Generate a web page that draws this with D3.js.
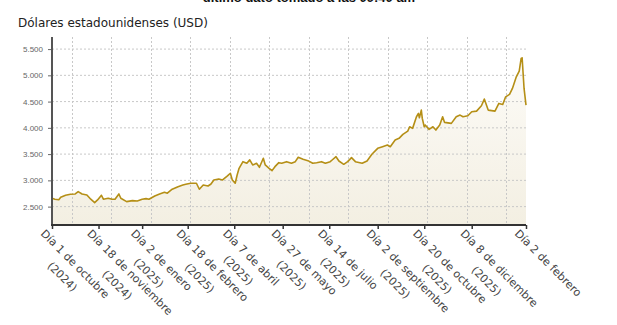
<!DOCTYPE html>
<html>
<head>
<meta charset="utf-8">
<script src="https://cdn.jsdelivr.net/npm/d3@7"></script>
<style>
  body { margin: 0; background: #fff; }
  svg { display: block; }
</style>
</head>
<body>
<svg id="chart" width="617" height="325"></svg>
<script>
// Precio en dólares, serie diaria muestreada
const dates = [
  "2024-10-01","2024-10-04","2024-10-08","2024-10-10","2024-10-15","2024-10-20","2024-10-25","2024-10-28",
  "2024-11-01","2024-11-06","2024-11-10","2024-11-14","2024-11-17","2024-11-21","2024-11-23","2024-11-28",
  "2024-12-02","2024-12-05","2024-12-09","2024-12-11","2024-12-17","2024-12-23","2024-12-28",
  "2025-01-02","2025-01-06","2025-01-09","2025-01-15","2025-01-20","2025-01-25","2025-01-28",
  "2025-02-02","2025-02-08","2025-02-13","2025-02-16","2025-02-21","2025-02-27",
  "2025-03-02","2025-03-06","2025-03-11","2025-03-14","2025-03-17","2025-03-22","2025-03-26","2025-03-31",
  "2025-04-03","2025-04-05","2025-04-08","2025-04-10","2025-04-12","2025-04-16","2025-04-20","2025-04-23","2025-04-26","2025-04-30",
  "2025-05-03","2025-05-07","2025-05-09","2025-05-13","2025-05-16","2025-05-19","2025-05-23","2025-05-26","2025-05-31",
  "2025-06-05","2025-06-09","2025-06-12","2025-06-17","2025-06-22","2025-06-27",
  "2025-07-01","2025-07-06","2025-07-10","2025-07-15","2025-07-17","2025-07-21","2025-07-24","2025-07-29",
  "2025-08-02","2025-08-06","2025-08-10","2025-08-17","2025-08-22","2025-08-27",
  "2025-09-02","2025-09-07","2025-09-12","2025-09-15","2025-09-20","2025-09-24","2025-09-28",
  "2025-10-03","2025-10-05","2025-10-08","2025-10-12","2025-10-14","2025-10-15","2025-10-17","2025-10-18","2025-10-20","2025-10-21","2025-10-25","2025-10-29",
  "2025-11-01","2025-11-05","2025-11-08","2025-11-10","2025-11-17","2025-11-22","2025-11-26","2025-11-29",
  "2025-12-04","2025-12-08","2025-12-13","2025-12-18","2025-12-21","2025-12-25",
  "2026-01-01","2026-01-05","2026-01-09","2026-01-12","2026-01-16","2026-01-19","2026-01-23","2026-01-26","2026-01-28","2026-01-29","2026-01-31",
  "2026-02-02"
];
const values = [
  2660,2641,2630,2679,2717,2736,2741,2785,
  2741,2722,2641,2576,2627,2717,2641,2660,
  2641,2641,2741,2660,2595,2614,2608,
  2641,2652,2641,2703,2741,2774,2755,
  2831,2880,2912,2926,2945,2945,
  2831,2912,2893,2931,3008,3026,3008,3084,
  3135,3008,2945,3103,3230,3356,3325,3390,3293,3325,
  3249,3420,3293,3230,3185,3261,3337,3325,3356,
  3325,3356,3439,3401,3375,3325,
  3337,3356,3325,3356,3388,3451,3369,3306,
  3356,3432,3356,3325,3369,3496,
  3610,3641,3673,3641,3768,3800,3876,
  3939,4021,3990,4211,4276,4192,4338,4180,4021,4053,3971,4021,
  3958,4053,4211,4104,4085,4211,4243,4211,
  4230,4306,4319,4420,4548,4338,
  4319,4465,4446,4591,4637,4751,4971,5080,5321,5334,4750,
  4433
];

const tickDates = [
  "2024-10-01","2024-11-18","2025-01-02","2025-02-18","2025-04-07","2025-05-27",
  "2025-07-14","2025-09-02","2025-10-20","2025-12-08","2026-02-02"
];
const tickLabels = [
  ["Día 1 de octubre", "(2024)"],
  ["Día 18 de noviembre", "(2024)"],
  ["Día 2 de enero", "(2025)"],
  ["Día 18 de febrero", "(2025)"],
  ["Día 7 de abril", "(2025)"],
  ["Día 27 de mayo", "(2025)"],
  ["Día 14 de julio", "(2025)"],
  ["Día 2 de septiembre", "(2025)"],
  ["Día 20 de octubre", "(2025)"],
  ["Día 8 de diciembre", "(2025)"],
  ["Día 2 de febrero"]
];
const yTicks = [2500, 3000, 3500, 4000, 4500, 5000, 5500];
const titleText = "último dato tomado a las 09:40 am";
const yTitleText = "Dólares estadounidenses (USD)";

const W = 617, H = 325;
const m = { top: 37, right: 91, bottom: 100, left: 52 };
const innerBottom = H - m.bottom;

const parse = d3.timeParse("%Y-%m-%d");
const series = dates.map((d, i) => ({ date: parse(d), value: values[i] }));

const x = d3.scaleTime()
  .domain([parse(dates[0]), parse(dates[dates.length - 1])])
  .range([m.left, W - m.right]);
const y = d3.scaleLinear()
  .domain([2150, 5730])
  .range([innerBottom, m.top]);

const locale = d3.formatLocale({ decimal: ",", thousands: ".", grouping: [3], currency: ["", ""] });
const fmt = locale.format(",d");

const svg = d3.select("#chart");

// Degradado del área
const defs = svg.append("defs");
const grad = defs.append("linearGradient")
  .attr("id", "areaFill")
  .attr("gradientUnits", "userSpaceOnUse")
  .attr("x1", 0).attr("x2", 0)
  .attr("y1", m.top).attr("y2", innerBottom);
grad.append("stop").attr("offset", "0%").attr("stop-color", "#fefdfb");
grad.append("stop").attr("offset", "100%").attr("stop-color", "#f3efe2");

// Título (recortado en el borde superior)
svg.append("text")
  .attr("x", 309).attr("y", 2)
  .attr("text-anchor", "middle")
  .attr("font-family", "Liberation Sans, Arial, sans-serif")
  .attr("font-weight", "bold")
  .attr("font-size", 13)
  .attr("fill", "#111")
  .text(titleText);

// Título del eje Y
svg.append("text")
  .attr("x", 18).attr("y", 27)
  .attr("font-family", "DejaVu Sans, sans-serif")
  .attr("font-size", 12)
  .attr("fill", "#222")
  .text(yTitleText);

// Área bajo la curva
const area = d3.area()
  .x(d => x(d.date))
  .y0(innerBottom)
  .y1(d => y(d.value));
svg.append("path")
  .datum(series)
  .attr("d", area)
  .attr("fill", "url(#areaFill)");

// Rejilla horizontal
svg.append("g")
  .selectAll("line")
  .data(yTicks)
  .join("line")
  .attr("x1", m.left).attr("x2", W - m.right)
  .attr("y1", d => y(d)).attr("y2", d => y(d))
  .attr("stroke", "#c8c8c8")
  .attr("stroke-width", 1)
  .attr("stroke-dasharray", "2,2");

// Rejilla vertical en 12 columnas iguales
const cols = d3.scaleLinear().domain([0, 12]).range([m.left, W - m.right]);
svg.append("g")
  .selectAll("line")
  .data(d3.range(12))
  .join("line")
  .attr("x1", k => Math.round(cols(k + 0.5)) + 0.5)
  .attr("x2", k => Math.round(cols(k + 0.5)) + 0.5)
  .attr("y1", m.top).attr("y2", innerBottom)
  .attr("stroke", "#c8c8c8")
  .attr("stroke-width", 1)
  .attr("stroke-dasharray", "2,2");

// Línea de precio
const line = d3.line()
  .x(d => x(d.date))
  .y(d => y(d.value));
svg.append("path")
  .datum(series)
  .attr("d", line)
  .attr("fill", "none")
  .attr("stroke", "#b58f16")
  .attr("stroke-width", 1.6)
  .attr("stroke-linejoin", "round");

// Eje Y
const yAxis = svg.append("g")
  .attr("transform", `translate(${m.left},0)`)
  .call(d3.axisLeft(y).tickValues(yTicks).tickFormat(fmt).tickSize(4).tickPadding(5));
yAxis.select(".domain").remove();
yAxis.selectAll(".tick line").attr("stroke", "#666");
yAxis.selectAll(".tick text")
  .attr("font-family", "Liberation Sans, Arial, sans-serif")
  .attr("font-size", 8)
  .attr("fill", "#666");
svg.append("line")
  .attr("x1", m.left).attr("x2", m.left)
  .attr("y1", m.top).attr("y2", innerBottom + 1)
  .attr("stroke", "#555").attr("stroke-width", 2);

// Eje X
const xAxis = svg.append("g")
  .attr("transform", `translate(0,${innerBottom})`)
  .call(d3.axisBottom(x).tickValues(tickDates.map(parse)).tickFormat("").tickSize(4));
xAxis.select(".domain").remove();
xAxis.selectAll(".tick line").attr("stroke", "#333").attr("stroke-width", 1.5);
svg.append("line")
  .attr("x1", m.left - 1).attr("x2", W - m.right)
  .attr("y1", innerBottom).attr("y2", innerBottom)
  .attr("stroke", "#333").attr("stroke-width", 2);

// Etiquetas del eje X: bloques girados 45°, líneas centradas entre sí
const labels = svg.append("g");
tickDates.forEach((d, i) => {
  const g = labels.append("g")
    .attr("transform", `translate(${x(parse(d))},${innerBottom}) rotate(45)`);
  const lines = tickLabels[i];
  const t0 = g.append("text")
    .attr("font-family", "DejaVu Sans, sans-serif")
    .attr("font-size", 11)
    .attr("fill", "#444")
    .text(lines[0]);
  const w0 = t0.node().getComputedTextLength();
  t0.attr("x", -2 + w0 / 2).attr("y", 15).attr("text-anchor", "middle");
  lines.slice(1).forEach((s, j) => {
    g.append("text")
      .attr("font-family", "DejaVu Sans, sans-serif")
      .attr("font-size", 11)
      .attr("fill", "#444")
      .attr("text-anchor", "middle")
      .attr("x", -2 + w0 / 2)
      .attr("y", 15 + 18 * (j + 1))
      .text(s);
  });
});
</script>
</body>
</html>
